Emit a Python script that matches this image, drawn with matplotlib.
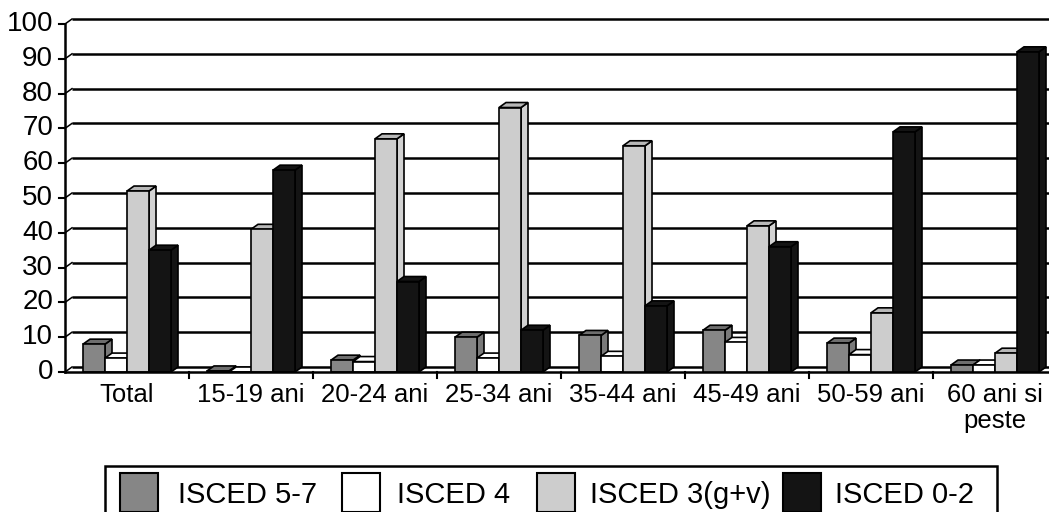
import matplotlib
matplotlib.use("Agg")
import matplotlib.pyplot as plt
from matplotlib.patches import Polygon, Rectangle

plt.rcParams['font.family'] = ['Liberation Sans', 'DejaVu Sans']

# ---- data -------------------------------------------------------------
categories = ["Total", "15-19 ani", "20-24 ani", "25-34 ani", "35-44 ani",
              "45-49 ani", "50-59 ani", "60 ani si\npeste"]
series_names = ["ISCED 5-7", "ISCED 4", "ISCED 3(g+v)", "ISCED 0-2"]
isced_5_7 = [8, 0.3, 3.4, 10, 10.5, 12, 8.3, 2]
isced_4 = [4, 0, 3, 4, 4.5, 8.5, 5, 2]
isced_3 = [52, 41, 67, 76, 65, 42, 17, 5.4]
isced_0_2 = [35, 58, 26, 12, 19, 36, 69, 92]
series_values = [isced_5_7, isced_4, isced_3, isced_0_2]
y_ticks = list(range(0, 101, 10))

# ---- styling ----------------------------------------------------------
front_colors = ["#868686", "#ffffff", "#cdcdcd", "#141414"]
top_colors = ["#6e6e6e", "#ffffff", "#b8b8b8", "#141414"]
side_colors = ["#7a7a7a", "#ffffff", "#d2d2d2", "#141414"]

W, H = 1049, 512
fig = plt.figure(figsize=(W / 100, H / 100), dpi=100)

# plot area in pixels
left_px, zero_px, top_px = 65, 372, 24
group_px = 124.0
ax = fig.add_axes([left_px / W, (H - zero_px) / H, (W - left_px) / W,
                   (zero_px - top_px) / H])
ax.set_xlim(0, (W - left_px) / group_px)
ax.set_ylim(0, 100)
ax.axis("off")

px_x = 1.0 / group_px                 # one pixel in x data units
px_y = 100.0 / (zero_px - top_px)     # one pixel in y data units
DX, DY = 7 * px_x, 5 * px_y           # 3-D depth offset
bar_w = 22 * px_x
xmax = (W - left_px) / group_px + 0.2
edge_lw = 1.2

# back-wall gridlines with diagonal connectors to the axis
for v in y_ticks:
    ax.plot([DX, xmax], [v + DY, v + DY], color="black", lw=1.8,
            zorder=1, clip_on=False, solid_capstyle="butt")
    ax.plot([0, DX], [v, v + DY], color="black", lw=1.1, zorder=1,
            clip_on=False)
    ax.plot([-6 * px_x, 0], [v, v], color="black", lw=1.5, zorder=30,
            clip_on=False)
    ax.text(-12 * px_x, v, str(v), ha="right", va="center", fontsize=20,
            clip_on=False)

# vertical value axis
ax.plot([0, 0], [0, 100], color="black", lw=1.8, zorder=30, clip_on=False)

# 3-D columns: side, top, then front so the next column covers the side
z = 5
offsets = [-1.5, -0.5, 0.5, 1.5]
for i in range(len(categories)):
    cx = i + 0.5
    for s, vals in enumerate(series_values):
        v = vals[i]
        x0 = cx + offsets[s] * bar_w - bar_w / 2
        x1 = x0 + bar_w
        side = Polygon([(x1, 0), (x1 + DX, DY), (x1 + DX, v + DY), (x1, v)],
                       closed=True, facecolor=side_colors[s],
                       edgecolor="black", lw=edge_lw, zorder=z)
        top = Polygon([(x0, v), (x0 + DX, v + DY), (x1 + DX, v + DY), (x1, v)],
                      closed=True, facecolor=top_colors[s],
                      edgecolor="black", lw=edge_lw, zorder=z)
        ax.add_patch(side)
        ax.add_patch(top)
        ax.bar(x0, v, width=bar_w, align="edge", color=front_colors[s],
               edgecolor="black", lw=edge_lw, zorder=z + 1)
        z += 2

# category axis with ticks between groups
ax.plot([0, xmax], [0, 0], color="black", lw=1.8, zorder=40, clip_on=False)
for i in range(1, len(categories)):
    ax.plot([i, i], [0, -6 * px_y], color="black", lw=1.5, zorder=40,
            clip_on=False)
for i, lab in enumerate(categories):
    ax.text(i + 0.5, -11 * px_y, lab, ha="center", va="top", fontsize=18.5,
            linespacing=1.12, clip_on=False)

# legend box
def fx(p):
    return p / W


def fy(p):
    return (H - p) / H


fig.add_artist(Rectangle((fx(105), fy(530)), fx(997) - fx(105),
                         fy(466) - fy(530), transform=fig.transFigure,
                         facecolor="white", edgecolor="black", lw=1.8))
patch_x = [120, 342, 537, 783]
text_x = [178, 397, 590, 835]
for s, name in enumerate(series_names):
    fig.add_artist(Rectangle((fx(patch_x[s]), fy(512)), fx(38),
                             fy(473) - fy(512), transform=fig.transFigure,
                             facecolor=front_colors[s], edgecolor="black",
                             lw=1.5))
    fig.text(fx(text_x[s]), fy(503), name, ha="left", va="baseline",
             fontsize=21)

fig.savefig("out.png", dpi=100)
